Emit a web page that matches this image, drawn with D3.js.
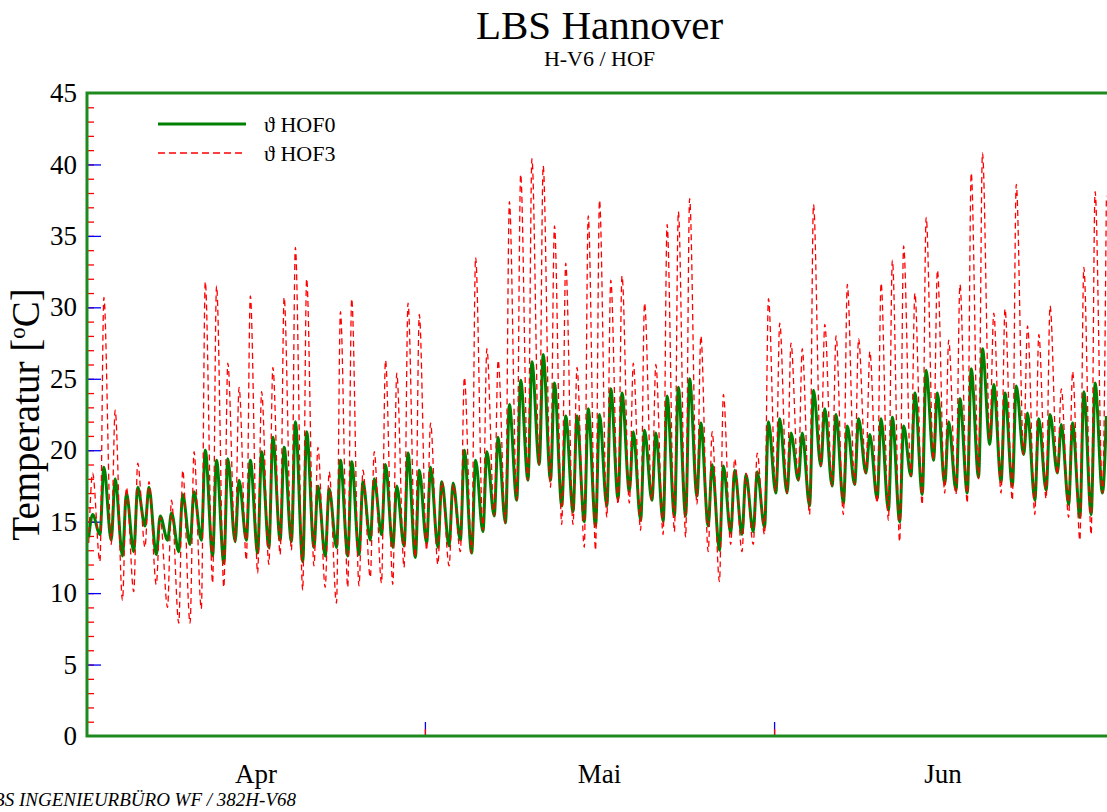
<!DOCTYPE html>
<html lang="de">
<head>
<meta charset="UTF-8">
<title>LBS Hannover</title>
<style>
    body { margin: 0; background: #fff; overflow: hidden; }
    svg { display: block; font-family: "Liberation Serif", "Times New Roman", serif; }
</style>
</head>
<body>
<svg width="1107" height="812"></svg>
<script src="https://cdn.jsdelivr.net/npm/d3@7"></script>
<script>
    // Tageswerte Apr 1 .. Jun 30 (91 Tage): Tagesminimum (früh) und Tagesmaximum (nachmittags)
    const hof0Min = [13.9, 14.1, 13.7, 12.6, 12.9, 14.7, 12.7, 13.7, 12.9, 13.4,
        13.7, 12.6, 12.1, 13.6, 13.7, 12.8, 13.2, 13.7, 13.6, 12.2,
        13.2, 12.6, 13.2, 12.6, 12.7, 13.7, 14.1, 13.2, 13.3, 12.5,
        13.5, 13.2, 13.3, 13.7, 12.8, 14.3, 15.4, 14.9, 16.5, 17.9,
        19.0, 17.9, 16.1, 15.7, 15.0, 14.7, 16.1, 16.6, 17.1, 15.1,
        16.5, 15.0, 15.4, 15.4, 16.8, 14.7, 13.0, 14.2, 14.1, 14.3,
        14.6, 17.0, 17.0, 17.9, 16.1, 18.9, 17.5, 16.3, 17.6, 18.4,
        16.6, 15.8, 15.0, 18.2, 16.9, 19.3, 17.6, 17.2, 17.0, 18.1,
        20.4, 17.8, 17.5, 19.7, 16.5, 17.2, 18.4, 16.2, 15.3, 15.5, 17.0];
    const hof0Max = [15.5, 18.8, 18.0, 17.0, 17.4, 17.4, 15.4, 15.6, 16.9, 17.1,
        20.0, 19.3, 19.4, 17.9, 19.3, 19.9, 20.9, 20.2, 22.0, 21.3,
        17.5, 17.3, 19.3, 19.2, 17.8, 18.0, 19.0, 17.5, 19.8, 18.6,
        18.8, 17.8, 17.7, 20.0, 19.3, 19.9, 20.9, 23.2, 24.9, 26.2,
        26.7, 24.7, 22.4, 22.4, 22.9, 22.5, 24.3, 24.0, 21.3, 21.4,
        21.2, 23.8, 24.4, 25.0, 21.9, 19.0, 18.9, 18.6, 18.3, 18.5,
        22.0, 22.2, 21.2, 21.2, 24.2, 22.9, 22.5, 21.7, 22.2, 21.1,
        22.2, 22.3, 21.7, 24.0, 25.6, 24.0, 22.0, 23.6, 25.7, 27.1,
        24.6, 24.0, 24.5, 22.6, 22.2, 22.5, 21.8, 21.9, 24.1, 24.7, 22.4];
    const hof3Min = [13.5, 12.2, 13.4, 9.5, 10.1, 13.2, 10.6, 9.0, 7.9, 7.9,
        8.9, 10.7, 10.4, 13.6, 12.3, 11.4, 12.0, 12.7, 13.0, 10.2,
        11.9, 10.4, 9.3, 10.4, 10.5, 11.1, 10.7, 10.6, 11.8, 12.5,
        13.0, 12.0, 11.9, 12.9, 12.8, 14.4, 15.4, 14.9, 16.5, 17.9,
        19.0, 17.4, 14.8, 14.8, 13.2, 13.0, 15.3, 16.2, 16.3, 14.4,
        16.5, 14.1, 14.3, 13.9, 16.2, 12.9, 10.8, 13.4, 12.9, 13.4,
        14.1, 17.1, 17.0, 17.9, 15.5, 18.9, 17.5, 15.5, 17.6, 18.4,
        16.3, 15.1, 13.6, 18.2, 16.2, 19.3, 17.0, 16.9, 16.3, 18.0,
        20.8, 17.0, 16.5, 19.7, 15.5, 16.6, 18.3, 15.3, 13.7, 14.1, 17.0];
    const hof3Max = [18.4, 30.7, 22.8, 17.4, 19.1, 17.8, 15.3, 16.5, 18.6, 19.9,
        31.8, 31.5, 26.1, 24.4, 30.8, 24.1, 25.8, 30.7, 34.2, 32.0,
        20.2, 18.5, 29.7, 30.6, 18.6, 19.9, 26.3, 25.4, 30.3, 29.5,
        21.9, 17.8, 17.6, 25.1, 33.5, 27.1, 26.3, 37.4, 39.3, 40.4,
        39.9, 35.7, 33.1, 25.8, 36.4, 37.5, 31.9, 32.2, 26.1, 30.3,
        26.0, 35.8, 36.7, 37.6, 28.0, 21.3, 23.9, 19.4, 18.4, 19.8,
        30.6, 28.9, 27.5, 27.1, 37.2, 28.8, 28.0, 31.6, 27.8, 26.9,
        31.7, 33.3, 34.3, 31.0, 36.3, 32.6, 27.7, 31.6, 39.4, 40.8,
        29.6, 29.9, 38.6, 28.7, 28.1, 30.1, 24.3, 25.5, 32.8, 38.1, 37.8];

    const monthLabels = ['Apr', 'Mai', 'Jun'];
    const yTicks = [0, 5, 10, 15, 20, 25, 30, 35, 40, 45];

    var svg = d3.select('svg');
    // Plotbereich (rechter Rand liegt knapp außerhalb des Fensters)
    var pL = 87, pR = 1112, pT = 93, pB = 736;
    var dayMs = 864e5;
    var t0 = new Date(Date.UTC(2000, 3, 1));
    var t1 = new Date(Date.UTC(2000, 6, 1));

    var x = d3.scaleUtc().domain([t0, t1]).range([pL, pR]);
    var y = d3.scaleLinear().domain([0, 45]).range([pB, pT]);

    // Punkte: Minimum am frühen Morgen, Maximum am Nachmittag
    function toPoints(mins, maxs) {
        var pts = [];
        mins.forEach(function (m, i) {
            pts.push([new Date(+t0 + (i + 0.15) * dayMs), m]);
            pts.push([new Date(+t0 + (i + 0.5) * dayMs), maxs[i]]);
        });
        return pts;
    }

    var line = d3.line()
        .x(function (d) { return x(d[0]); })
        .y(function (d) { return y(d[1]); })
        .curve(d3.curveMonotoneX);

    svg.append('clipPath').attr('id', 'plot')
        .append('rect').attr('x', pL).attr('y', pT)
        .attr('width', pR - pL).attr('height', pB - pT);

    // Titel
    svg.append('text').attr('x', (pL + pR) / 2).attr('y', 39)
        .attr('text-anchor', 'middle').attr('font-size', 41).text('LBS Hannover');
    svg.append('text').attr('x', (pL + pR) / 2).attr('y', 66)
        .attr('text-anchor', 'middle').attr('font-size', 22).text('H-V6 / HOF');

    // y-Achse: kleine rote Striche, blaue Hauptstriche
    var gMinor = svg.append('g').attr('transform', 'translate(' + (pL + 1) + ',0)')
        .call(d3.axisLeft(y).tickValues(d3.range(1, 45)).tickSize(-6).tickFormat(''));
    gMinor.selectAll('line').attr('stroke', '#ff0000').attr('stroke-width', 1.3);
    var gMajor = svg.append('g').attr('transform', 'translate(' + (pL + 1) + ',0)')
        .call(d3.axisLeft(y).tickValues(yTicks.slice(1, -1)).tickSize(-13).tickFormat(''));
    gMajor.selectAll('line').attr('stroke', '#0000ff').attr('stroke-width', 1.3);
    var gLab = svg.append('g').attr('transform', 'translate(' + pL + ',0)')
        .call(d3.axisLeft(y).tickValues(yTicks).tickSize(0).tickPadding(10));
    gLab.attr('font-family', null).attr('font-size', null);
    gLab.selectAll('text').attr('font-size', 27).attr('fill', '#000');
    [gMinor, gMajor, gLab].forEach(function (g) { g.select('.domain').remove(); });

    // x-Achse: Monatsgrenzen
    var months = d3.utcMonth.range(t0, t1);
    var gxBlue = svg.append('g').attr('transform', 'translate(0,' + (pB - 1) + ')')
        .call(d3.axisTop(x).tickValues(months.slice(1)).tickSize(13).tickFormat(''));
    gxBlue.selectAll('line').attr('stroke', '#0000ff').attr('stroke-width', 1.3);
    var gxRed = svg.append('g').attr('transform', 'translate(0,' + (pB - 1) + ')')
        .call(d3.axisTop(x).tickValues(months.slice(1)).tickSize(6).tickFormat(''));
    gxRed.selectAll('line').attr('stroke', '#ff0000').attr('stroke-width', 1.3);
    [gxBlue, gxRed].forEach(function (g) { g.select('.domain').remove(); });

    svg.append('g').selectAll('text').data(months).enter().append('text')
        .attr('x', function (d) { return x(new Date((+d + +d3.utcMonth.offset(d, 1)) / 2)); })
        .attr('y', 783)
        .attr('text-anchor', 'middle').attr('font-size', 27)
        .text(function (d, i) { return monthLabels[i]; });

    // Kurven
    var plot = svg.append('g').attr('clip-path', 'url(#plot)');
    plot.append('path').datum(toPoints(hof0Min, hof0Max))
        .attr('d', line).attr('fill', 'none')
        .attr('stroke', '#008000').attr('stroke-width', 3).attr('stroke-linejoin', 'round');
    plot.append('path').datum(toPoints(hof3Min, hof3Max))
        .attr('d', line).attr('fill', 'none')
        .attr('stroke', '#ff0000').attr('stroke-width', 1.3).attr('stroke-dasharray', '6,4');

    // Rahmen
    svg.append('rect').attr('x', pL).attr('y', pT)
        .attr('width', pR - pL).attr('height', pB - pT)
        .attr('fill', 'none').attr('stroke', '#1e8a1e').attr('stroke-width', 3);

    // y-Titel
    var yt = svg.append('text').attr('transform', 'translate(39,' + ((pT + pB) / 2) + ') rotate(-90)')
        .attr('text-anchor', 'middle').attr('font-size', 39);
    yt.append('tspan').text('Temperatur [');
    yt.append('tspan').attr('font-size', 23).attr('dy', -14).text('o');
    yt.append('tspan').attr('dy', 14).text('C]');

    // Legende
    var leg = svg.append('g');
    var legItems = [
        { name: 'ϑ HOF0', color: '#008000', width: 3, dash: null, y: 124 },
        { name: 'ϑ HOF3', color: '#ff0000', width: 1.3, dash: '7,4', y: 153 }
    ];
    legItems.forEach(function (it) {
        leg.append('line').attr('x1', 158).attr('x2', 246).attr('y1', it.y).attr('y2', it.y)
            .attr('stroke', it.color).attr('stroke-width', it.width).attr('stroke-dasharray', it.dash);
        leg.append('text').attr('x', 264).attr('y', it.y + 8).attr('font-size', 22).text(it.name);
    });

    // Fußzeile
    svg.append('text').attr('x', 296).attr('y', 806).attr('text-anchor', 'end')
        .attr('font-size', 19).attr('font-style', 'italic')
        .text('LBS INGENIEURBÜRO WF / 382H-V68');
</script>
</body>
</html>
